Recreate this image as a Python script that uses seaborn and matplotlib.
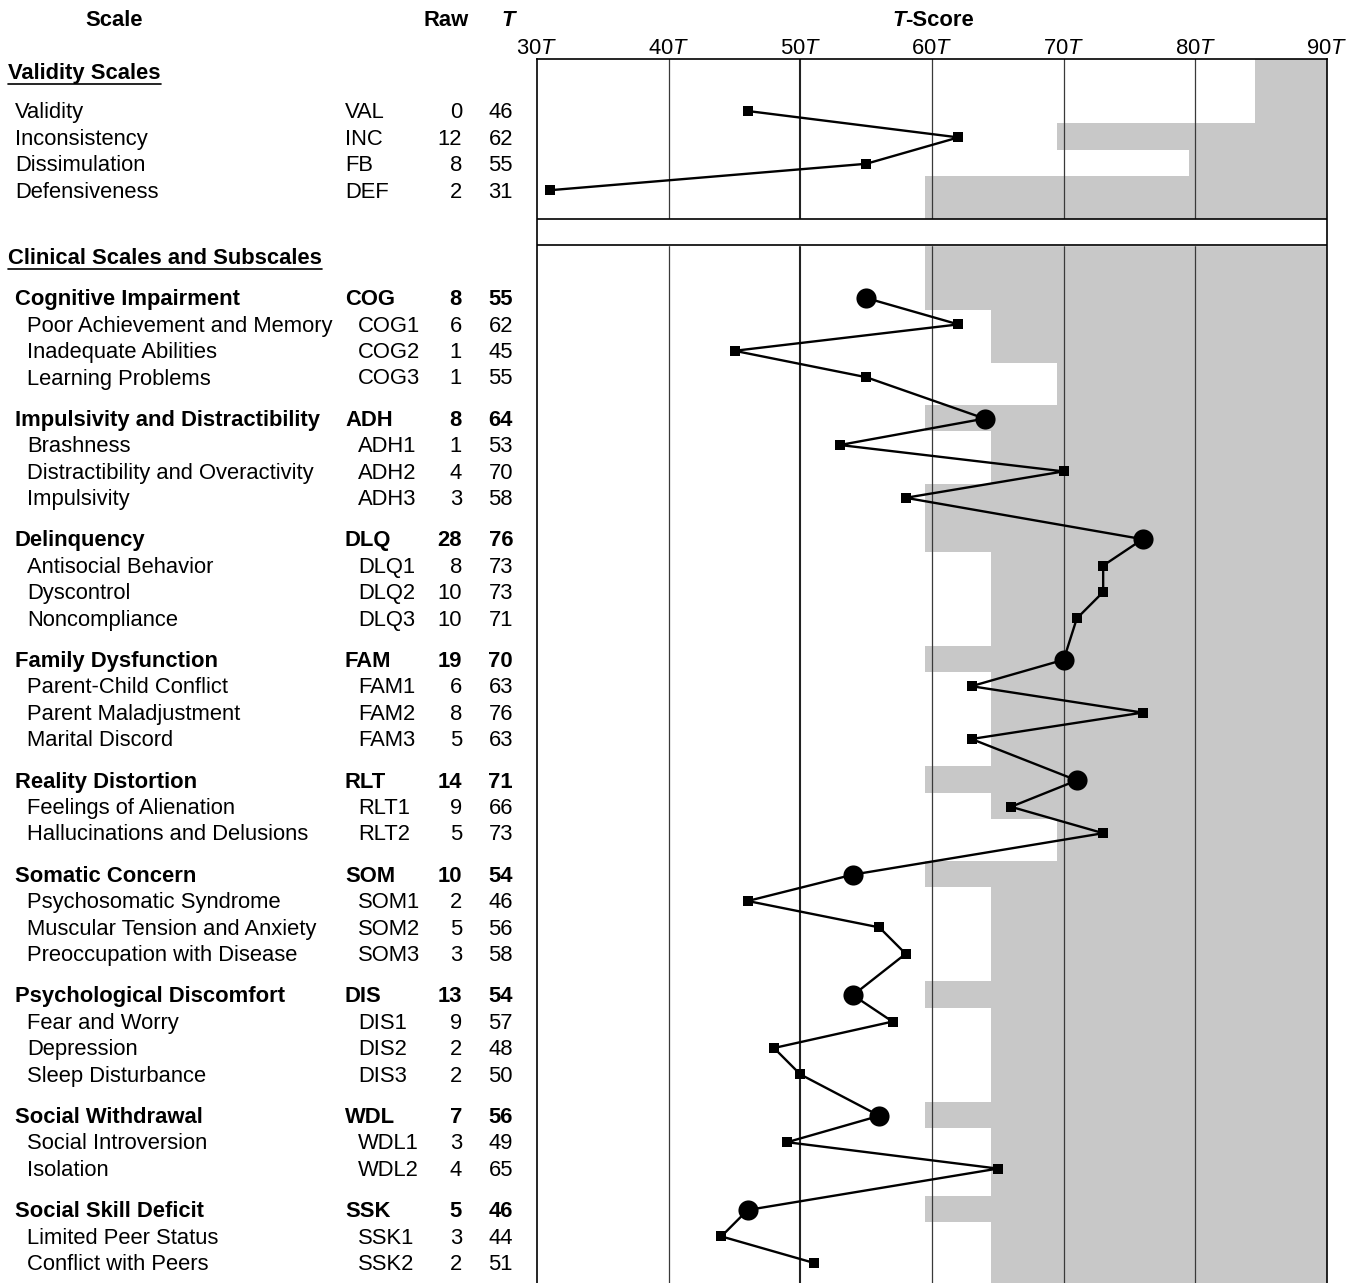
import numpy as np
import pandas as pd
import matplotlib
matplotlib.use("Agg")
import matplotlib.pyplot as plt
import matplotlib.transforms as mtransforms
from matplotlib.lines import Line2D
import seaborn as sns

# ---------------- data ----------------
val_names = ["Validity", "Inconsistency", "Dissimulation", "Defensiveness"]
val_codes = ["VAL", "INC", "FB", "DEF"]
val_raw = [0, 12, 8, 2]
val_t = [46, 62, 55, 31]
val_shade = [85, 70, 80, 60]   # T level where shading starts

clin_names = [
    "Cognitive Impairment", "Poor Achievement and Memory", "Inadequate Abilities", "Learning Problems",
    "Impulsivity and Distractibility", "Brashness", "Distractibility and Overactivity", "Impulsivity",
    "Delinquency", "Antisocial Behavior", "Dyscontrol", "Noncompliance",
    "Family Dysfunction", "Parent-Child Conflict", "Parent Maladjustment", "Marital Discord",
    "Reality Distortion", "Feelings of Alienation", "Hallucinations and Delusions",
    "Somatic Concern", "Psychosomatic Syndrome", "Muscular Tension and Anxiety", "Preoccupation with Disease",
    "Psychological Discomfort", "Fear and Worry", "Depression", "Sleep Disturbance",
    "Social Withdrawal", "Social Introversion", "Isolation",
    "Social Skill Deficit", "Limited Peer Status", "Conflict with Peers",
]
clin_codes = [
    "COG", "COG1", "COG2", "COG3",
    "ADH", "ADH1", "ADH2", "ADH3",
    "DLQ", "DLQ1", "DLQ2", "DLQ3",
    "FAM", "FAM1", "FAM2", "FAM3",
    "RLT", "RLT1", "RLT2",
    "SOM", "SOM1", "SOM2", "SOM3",
    "DIS", "DIS1", "DIS2", "DIS3",
    "WDL", "WDL1", "WDL2",
    "SSK", "SSK1", "SSK2",
]
clin_raw = [8, 6, 1, 1, 8, 1, 4, 3, 28, 8, 10, 10, 19, 6, 8, 5, 14, 9, 5,
            10, 2, 5, 3, 13, 9, 2, 2, 7, 3, 4, 5, 3, 2]
clin_t = [55, 62, 45, 55, 64, 53, 70, 58, 76, 73, 73, 71, 70, 63, 76, 63, 71, 66, 73,
          54, 46, 56, 58, 54, 57, 48, 50, 56, 49, 65, 46, 44, 51]
clin_shade = [60, 65, 65, 70, 60, 65, 65, 60, 60, 65, 65, 65, 60, 65, 65, 65, 60, 65, 70,
              60, 65, 65, 65, 60, 65, 65, 65, 60, 65, 65, 60, 65, 65]
t_ticks = [30, 40, 50, 60, 70, 80, 90]

# ---------------- layout (pixel units from top) ----------------
W, H = 1360, 1283
ROW = 26.4
GAP = 15.0
AX_TOP, AX_BOT = 59, 1283
VAL_TOP, VAL_BOT = 59, 219
CLIN_TOP = 245
TXT_DY = 1.8

val_y = [111 + i * ROW for i in range(len(val_codes))]
clin_y = []
cur = 298.0
for i, c in enumerate(clin_codes):
    if i > 0:
        cur += ROW
        if c[-1].isalpha():   # new group (main scale)
            cur += GAP
    clin_y.append(cur)
is_main = [c[-1].isalpha() for c in clin_codes]

sns.set_style("white")
plt.rcParams["font.family"] = ["Liberation Sans", "DejaVu Sans"]
plt.rcParams["text.color"] = "black"
plt.rcParams["mathtext.fontset"] = "custom"
plt.rcParams["mathtext.rm"] = "Liberation Sans"
plt.rcParams["mathtext.it"] = "Liberation Sans:italic"
plt.rcParams["mathtext.bf"] = "Liberation Sans:bold"

FS = 15.8
GRAY = "#c8c8c8"

fig = plt.figure(figsize=(W / 100, H / 100), dpi=100)
ax = fig.add_axes([537 / W, 0, (1327 - 537) / W, (AX_BOT - AX_TOP) / H])
ax.set_xlim(30, 90)
ax.set_ylim(AX_BOT, AX_TOP)


def band_edges(ys, top, bot):
    tops = [top] + [y - 14 for y in ys[1:]]
    bots = tops[1:] + [bot]
    return np.array(tops), np.array(bots)


# shading
for ys, shade, top, bot in [(val_y, val_shade, VAL_TOP, VAL_BOT),
                            (clin_y, clin_shade, CLIN_TOP, AX_BOT)]:
    tops, bots = band_edges(ys, top, bot)
    left = np.array(shade) - 0.5
    ax.barh(y=(tops + bots) / 2, width=90 - left, left=left, height=bots - tops,
            color=GRAY, linewidth=0, zorder=0)

# grid lines
for t in t_ticks[1:-1]:
    ax.axvline(t, color="#222222" if t == 50 else "#3a3a3a",
               lw=1.5 if t == 50 else 0.9, zorder=1)

# white separator band
ax.axhspan(VAL_BOT, CLIN_TOP, color="white", zorder=2)
ax.axhline(VAL_BOT, color="black", lw=1.2, zorder=2.5)
ax.axhline(CLIN_TOP, color="black", lw=1.2, zorder=2.5)

# profile lines
vdf = pd.DataFrame({"T": val_t, "y": val_y})
cdf = pd.DataFrame({"T": clin_t, "y": clin_y, "main": is_main})
for d in (vdf, cdf):
    sns.lineplot(data=d, x="T", y="y", sort=False, estimator=None, color="black",
                 lw=1.7, ax=ax, zorder=3)
sns.scatterplot(data=vdf, x="T", y="y", marker="s", s=55, color="black",
                linewidth=0, ax=ax, zorder=4)
sns.scatterplot(data=cdf[~cdf["main"]], x="T", y="y", marker="s", s=55, color="black",
                linewidth=0, ax=ax, zorder=4)
sns.scatterplot(data=cdf[cdf["main"]], x="T", y="y", marker="o", s=210, color="black",
                linewidth=0, ax=ax, zorder=4)

# axes styling
ax.set_xlabel("")
ax.set_ylabel("")
ax.set_yticks([])
ax.xaxis.tick_top()
ax.set_xticks(t_ticks)
ax.set_xticklabels([f"{t}$\\mathit{{T}}$" for t in t_ticks])
ax.tick_params(axis="x", length=0, pad=0, labelsize=FS, colors="black")
for s in ["left", "right", "top"]:
    ax.spines[s].set_visible(True)
    ax.spines[s].set_color("black")
    ax.spines[s].set_linewidth(1.2)
ax.spines["bottom"].set_visible(False)

# ---------------- text table ----------------
tr = mtransforms.blended_transform_factory(fig.transFigure, ax.transData)


def put(xpx, y, s, ha="left", bold=False):
    ax.text(xpx / W, y + TXT_DY, s, transform=tr, ha=ha, va="center", fontsize=FS,
            fontweight="bold" if bold else "normal", clip_on=False, color="black")


for n, c, r, t, y in zip(val_names, val_codes, val_raw, val_t, val_y):
    put(15, y, n)
    put(345, y, c)
    put(462, y, str(r), ha="right")
    put(513, y, str(t), ha="right")

for n, c, r, t, y, m in zip(clin_names, clin_codes, clin_raw, clin_t, clin_y, is_main):
    put(15 if m else 27, y, n, bold=m)
    put(345 if m else 358, y, c, bold=m)
    put(462, y, str(r), ha="right", bold=m)
    put(513, y, str(t), ha="right", bold=m)

# headers
hy = 1 - 20 / H
fig.text(114 / W, hy, "Scale", ha="center", va="center", fontsize=FS, fontweight="bold")
fig.text(469 / W, hy, "Raw", ha="right", va="center", fontsize=FS, fontweight="bold")
fig.text(508 / W, hy, "T", ha="center", va="center", fontsize=FS, fontweight="bold",
         style="italic")
tT = fig.text(892 / W, hy, "T", ha="left", va="center", fontsize=FS, fontweight="bold",
              style="italic")
ax.annotate("-Score", xy=(1, 0), xycoords=tT, ha="left", va="bottom", fontsize=FS,
            fontweight="bold", annotation_clip=False, color="black")

sec = []
for label, ypx in [("Validity Scales", 74), ("Clinical Scales and Subscales", 259)]:
    sec.append(fig.text(8 / W, 1 - ypx / H, label, ha="left", va="center", fontsize=FS,
                        fontweight="bold"))

fig.canvas.draw()
r = fig.canvas.get_renderer()
for t in sec:
    bb = t.get_window_extent(r)
    yline = bb.y0 + 1
    fig.add_artist(Line2D([bb.x0 / W, bb.x1 / W], [yline / H, yline / H],
                          transform=fig.transFigure, color="black", lw=1.2))

fig.savefig("out.png", dpi=100)
